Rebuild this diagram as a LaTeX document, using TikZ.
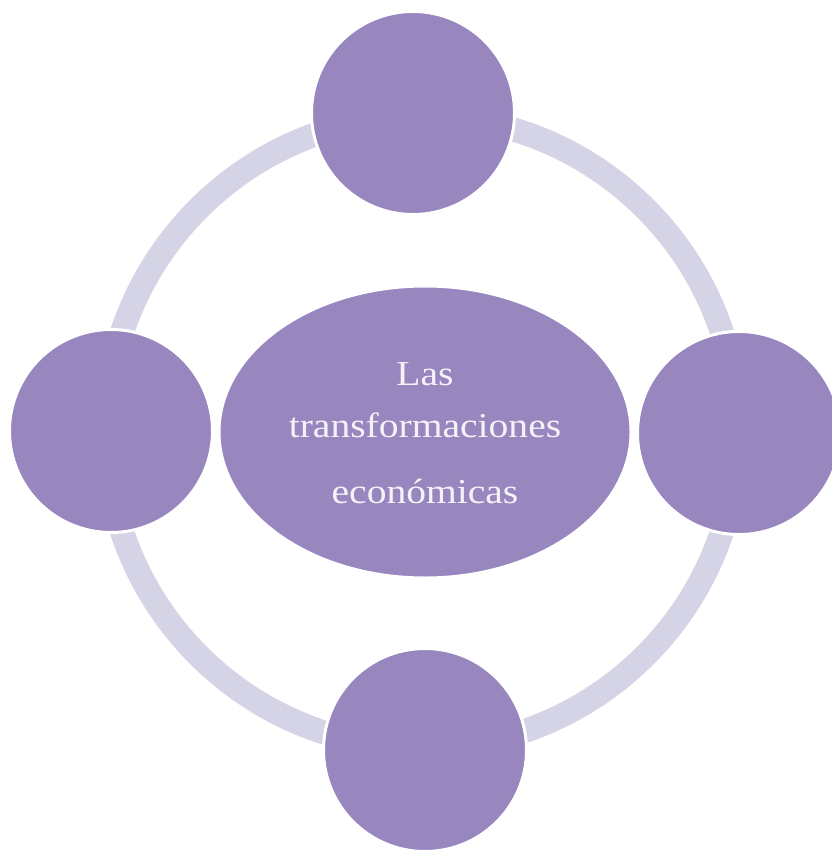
\documentclass[tikz,border=0pt]{standalone}
\usepackage{fontspec}
\setmainfont{Liberation Serif}[FakeStretch=1.13]
\usetikzlibrary{shapes.geometric}
\definecolor{satfill}{RGB}{152,134,190}
\definecolor{ringcol}{RGB}{213,211,230}
\definecolor{txtcol}{RGB}{244,241,248}
\tikzset{
  satellite/.style={circle, fill=satfill, draw=white, line width=3pt, minimum size=203pt, inner sep=0pt},
  hub/.style={ellipse, fill=satfill, draw=white, line width=3pt, minimum width=412pt, minimum height=292pt, inner sep=0pt},
  hubtext/.style={text=txtcol, anchor=base, inner sep=0pt, font=\fontsize{35}{42}\selectfont},
  ringline/.style={draw=ringcol, line width=24pt}
}
\begin{document}
\begin{tikzpicture}[x=1pt,y=-1pt]
\useasboundingbox (0,0) rectangle (831,850);
\fill[white] (0,0) rectangle (831,850);
\coordinate (ctr) at (422,432);
\draw[ringline] (ctr) circle[radius=316];
\node[hub] (hub) at (425,432) {};
\node[hubtext] (line1) at (425,385) {Las};
\node[hubtext] (line2) at (425,437) {transformaciones};
\node[hubtext] (line3) at (425,503) {económicas};
\node[satellite] (top) at (413,113) {};
\node[satellite] (left) at (111,431) {};
\node[satellite] (right) at (739,433) {};
\node[satellite] (bottom) at (425,750) {};
\end{tikzpicture}
\end{document}
